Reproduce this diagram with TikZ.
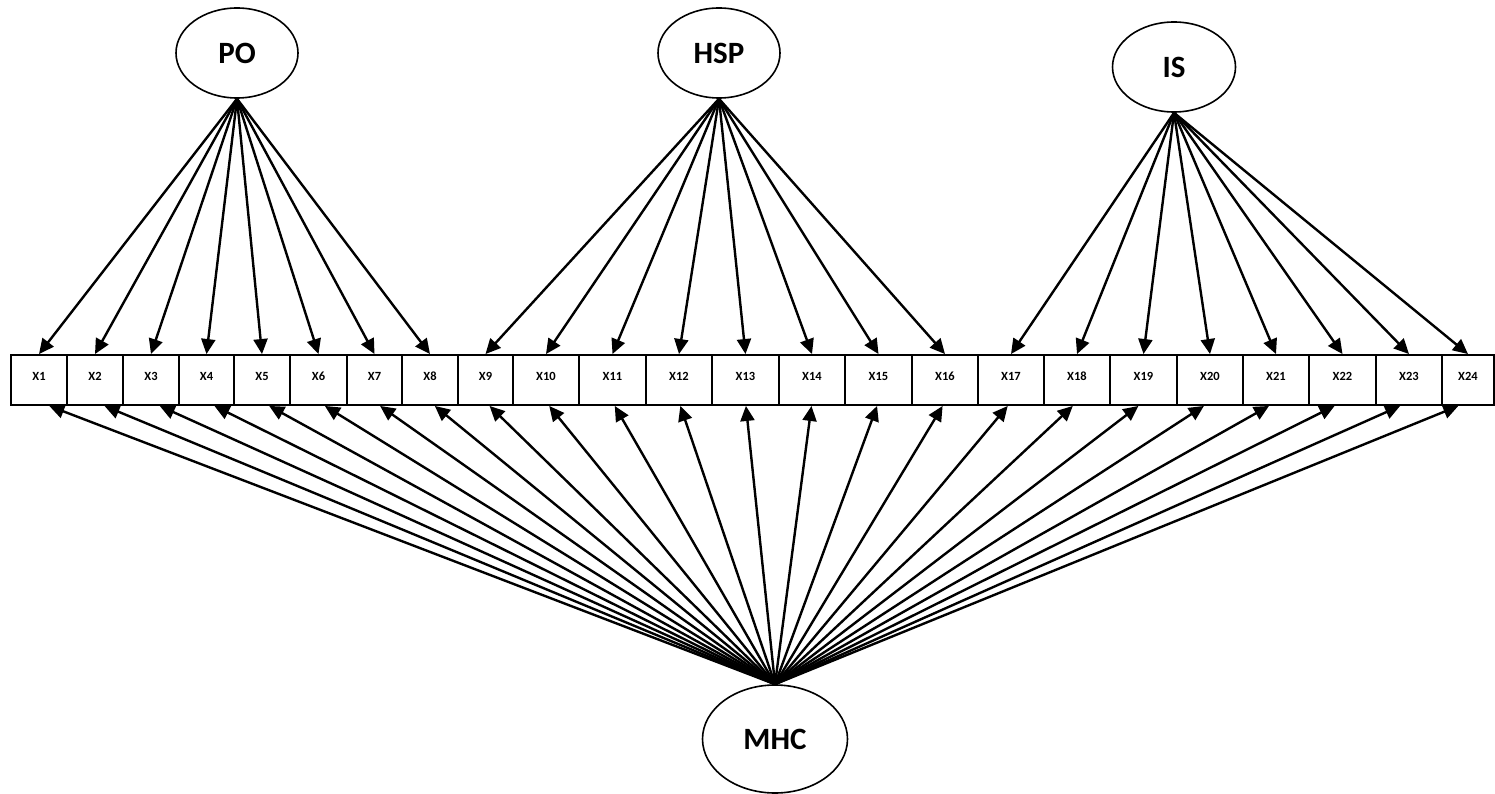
\documentclass[tikz,border=0pt]{standalone}
\usepackage{fontspec}
\setmainfont{Carlito}
\usetikzlibrary{arrows.meta,shapes.geometric,calc}
\begin{document}
\begin{tikzpicture}[x=1pt,y=-1pt,
 lat/.style={ellipse,draw,line width=1.6pt,inner sep=0pt,font=\fontsize{31}{34}\selectfont\bfseries},
 obs/.style={draw,line width=1.9pt,inner sep=0pt,minimum height=50pt,font=\fontsize{12.5}{14}\selectfont\bfseries},
 arr/.style={line width=2.4pt,-{Triangle[length=15pt,width=14pt]}}]
\useasboundingbox (0,0) rectangle (1495,794);
\node[lat,minimum width=122pt,minimum height=90pt] (po) at (237,53) {PO};
\node[lat,minimum width=122pt,minimum height=90pt] (hsp) at (719,53) {HSP};
\node[lat,minimum width=123pt,minimum height=90pt] (is) at (1174,67) {IS};
\node[lat,minimum width=145pt,minimum height=108pt] (mhc) at (775,739) {MHC};
\foreach \i/\l/\r in {1/11/67,2/67/123,3/123/179,4/179/234,5/234/290,6/290/347,7/347/402,8/402/458,9/458/513,10/513/579,11/579/646,12/646/712,13/712/779,14/779/845,15/845/912,16/912/978,17/978/1044,18/1044/1110,19/1110/1177,20/1177/1243,21/1243/1309,22/1309/1376,23/1376/1442,24/1442/1494}
  \node[obs,minimum width={(\r-\l)*1pt}] (x\i) at ({(\l+\r)/2},380) {\smash{X\i}};
\foreach \i in {1,...,8} \draw[arr] (po.south) -- (x\i.north);
\foreach \i in {9,...,16} \draw[arr] (hsp.south) -- (x\i.north);
\foreach \i in {17,...,24} \draw[arr] (is.south) -- (x\i.north);
\foreach \i in {1,...,24} \draw[arr] (mhc.north) -- ($(x\i.south)!0.014!(x\i.south -| mhc.north)$);
\end{tikzpicture}
\end{document}
